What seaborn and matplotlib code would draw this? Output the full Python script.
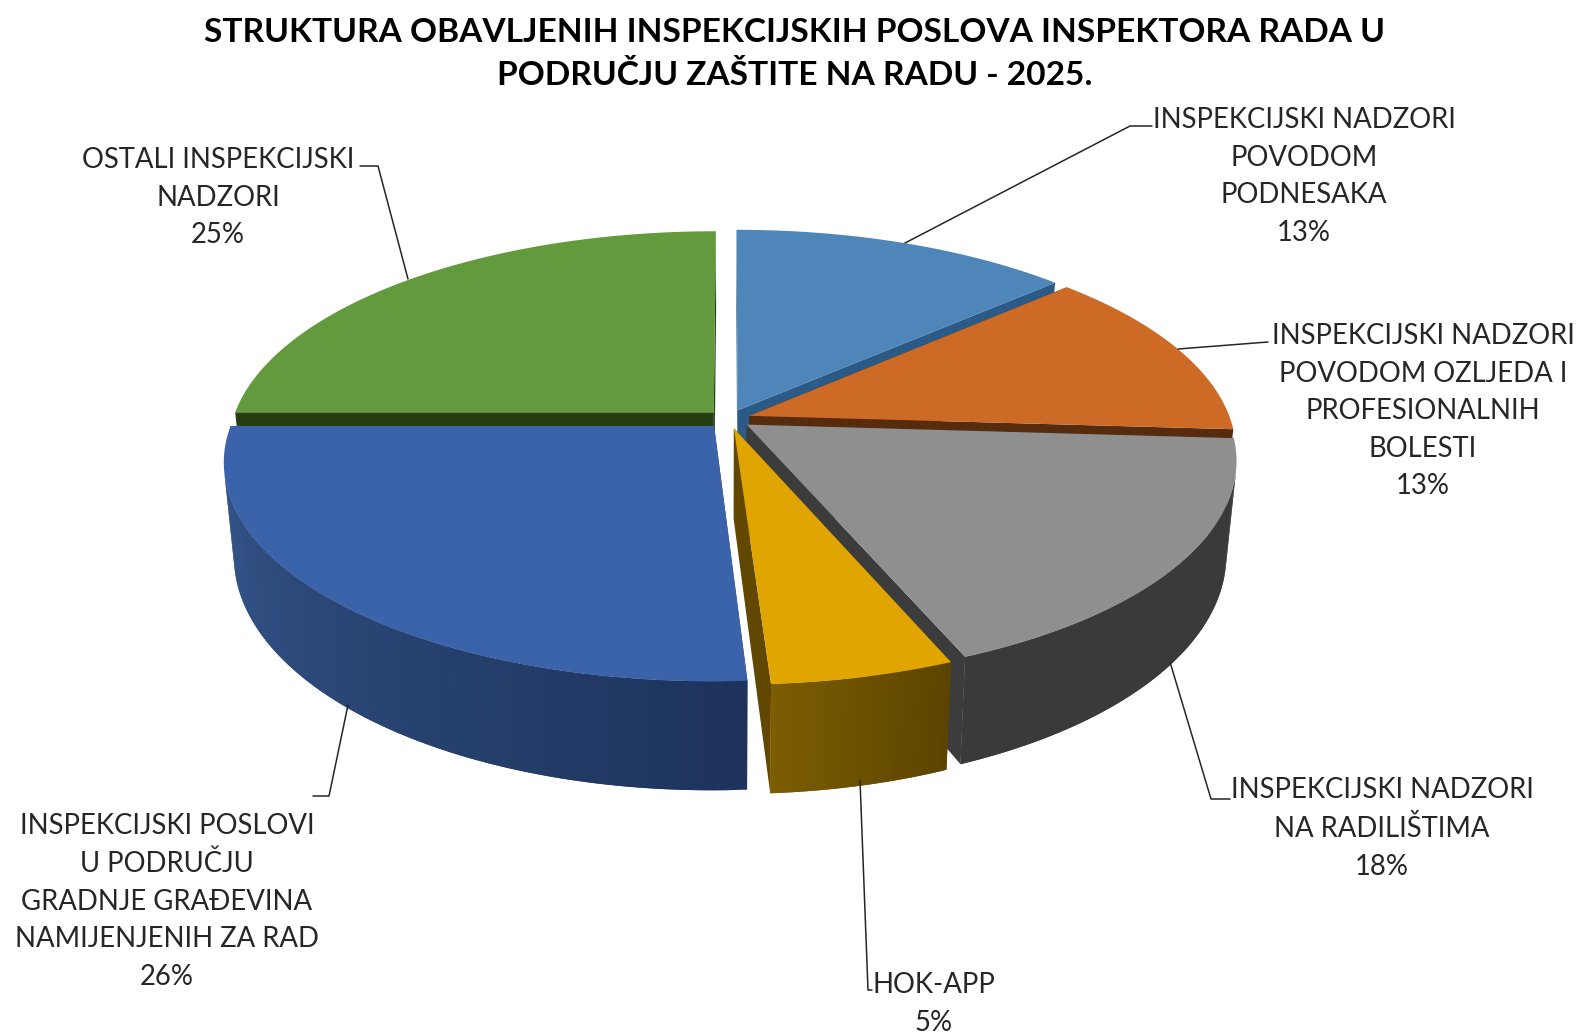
import numpy as np
import matplotlib
matplotlib.use("Agg")
import matplotlib.pyplot as plt
import seaborn as sns

# data
categories = ["INSPEKCIJSKI NADZORI\nPOVODOM\nPODNESAKA",
              "INSPEKCIJSKI NADZORI\nPOVODOM OZLJEDA I\nPROFESIONALNIH\nBOLESTI",
              "INSPEKCIJSKI NADZORI\nNA RADILIŠTIMA",
              "HOK-APP",
              "INSPEKCIJSKI POSLOVI\nU PODRUČJU\nGRADNJE GRAĐEVINA\nNAMIJENJENIH ZA RAD",
              "OSTALI INSPEKCIJSKI\nNADZORI"]
values = [13.2, 12.8, 17.8, 5.2, 26, 25]
title = "STRUKTURA OBAVLJENIH INSPEKCIJSKIH POSLOVA INSPEKTORA RADA U\nPODRUČJU ZAŠTITE NA RADU - 2025."

# colours: top face, cut face, wall left/right
top_colors = ["#4e86ba", "#cd6b26", "#8f8f8f", "#e0a500", "#3a63aa", "#629a3d"]
cut_colors = ["#2b5a86", "#562b0e", "#3c3c3c", "#614700", "#22396a", "#263d14"]
wall_left = ["#2b5a86", "#562b0e", "#3a3a3a", "#7c5d02", "#37598f", "#263d14"]
wall_right = ["#2b5a86", "#562b0e", "#3a3a3a", "#5c4400", "#1d335c", "#263d14"]

# label placement, pixels of the 1580x1034 picture
label_xy = [(1304, 107), (1423, 323), (1382, 777), (934, 972), (167, 813), (218, 147)]
leaders = [[(905, 243), (1130, 126), (1152, 126)],
           [(1178, 349), (1268, 342)],
           [(1170, 662), (1211, 799), (1230, 799)],
           [(860, 780), (868, 990), (872, 990)],
           [(348, 705), (329, 796), (313, 796)],
           [(408, 279), (378, 166), (360, 166)]]

CX, CY = 729, 419
RX, RY = 481, 212
DEPTH = 91
PERSP = 0.16
BOTTOM = 0.98
EXPLODE = 0.045


def project(u, v, low=False):
    s = 1 / (1 + PERSP * v)
    k = BOTTOM if low else 1
    x = CX + RX * u * s * k
    y = CY - RY * v * s + (DEPTH * s if low else 0)
    return x, y


sns.set_theme(style="white")
plt.rcParams["font.family"] = ["Lato", "DejaVu Sans"]

fig = plt.figure(figsize=(15.8, 10.34), dpi=100)
ax = fig.add_axes([0, 0, 1, 1])
ax.set_xlim(0, 1580)
ax.set_ylim(1034, 0)
ax.axis("off")

shares = np.array(values) / sum(values)
edges = np.concatenate([[0], np.cumsum(shares)]) * 2 * np.pi
mids = (edges[:-1] + edges[1:]) / 2

# back slices first
order = np.argsort(-np.cos(mids))
for i in order:
    a0, a1 = edges[i], edges[i + 1]
    ou, ov = EXPLODE * np.sin(mids[i]), EXPLODE * np.cos(mids[i])
    ang = np.linspace(a0, a1, 80)
    us = ou + np.sin(ang)
    vs = ov + np.cos(ang)

    # cut faces
    for a in (a0, a1):
        pts = [project(ou, ov), project(ou + np.sin(a), ov + np.cos(a)),
               project(ou + np.sin(a), ov + np.cos(a), True), project(ou, ov, True)]
        ax.fill(*zip(*pts), color=cut_colors[i], lw=0, zorder=1)

    # outer wall, strips overlap so no seams show
    shades = sns.blend_palette([wall_right[i], wall_left[i]], len(ang) - 1)
    for j in range(len(ang) - 1):
        k = min(j + 2, len(ang) - 1)
        p0 = project(us[j], vs[j])
        p1 = project(us[k], vs[k])
        p2 = project(us[k], vs[k], True)
        p3 = project(us[j], vs[j], True)
        area = (p1[0] - p0[0]) * (p2[1] - p0[1]) - (p1[1] - p0[1]) * (p2[0] - p0[0])
        if area > 0:
            continue
        ax.fill(*zip(p0, p1, p2, p3), color=shades[j], lw=0, zorder=1)

    # top face
    top = [project(ou, ov)] + [project(u, v) for u, v in zip(us, vs)]
    ax.fill(*zip(*top), color=top_colors[i], lw=0, zorder=1)

for line in leaders:
    ax.plot(*zip(*line), color="#262626", lw=1.1, zorder=2)

for name, val, (x, y) in zip(categories, values, label_xy):
    ax.text(x, y, f"{name}\n{val:.0f}%", ha="center", va="top", fontsize=19.8,
            linespacing=1.55, color="#262626", zorder=3)

ax.text(795, 54, title, ha="center", va="center", fontsize=24.1, fontweight="bold",
        linespacing=1.5, color="black")

fig.savefig("out.png", dpi=100)
